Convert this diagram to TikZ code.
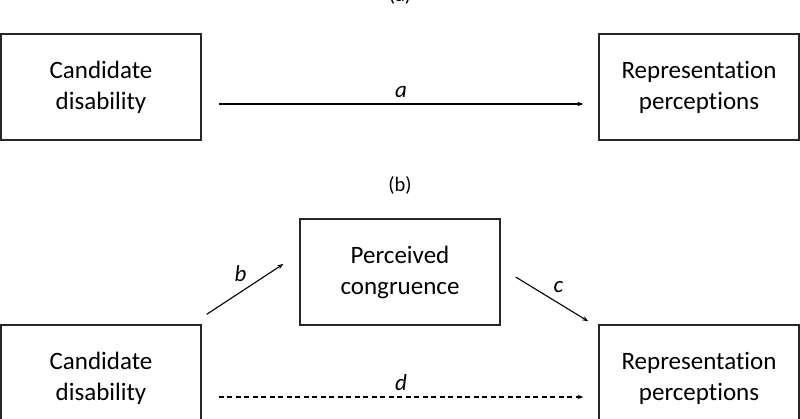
\documentclass[tikz,border=0pt]{standalone}
\usepackage{fontspec}
\setmainfont[RawFeature=-liga]{Carlito}
\usetikzlibrary{arrows.meta}
\begin{document}
\begin{tikzpicture}[x=1pt,y=-1pt,
  box/.style={draw=black!85,line width=1.3pt,minimum width=200pt,minimum height=106pt,inner sep=0pt,align=center,font=\fontsize{25}{31}\selectfont},
  conn/.style={line width=1.1pt,-{Stealth[length=6pt,width=4.5pt]}},
  lab/.style={font=\fontsize{23}{26}\selectfont\itshape,inner sep=2pt},
  panel/.style={font=\fontsize{20.5}{24}\selectfont}]
\useasboundingbox (0,0) rectangle (800,419);
% panel (a)
\node[panel] (pa) at (400,-5) {(a)};
\node[box] (a1) at (101,87) {Candidate\\disability};
\node[box] (a2) at (699,87) {Representation\\perceptions};
\draw[conn] ([shift={(17pt,-17pt)}]a1.east) -- node[lab,above,yshift=4pt] {a} ([shift={(-15pt,-17pt)}]a2.west);
% panel (b)
\node[panel] (pb) at (400,185) {(b)};
\node[box] (pc) at (400,272) {Perceived\\congruence};
\node[box] (b1) at (101,378) {Candidate\\disability};
\node[box] (b2) at (699,378) {Representation\\perceptions};
\draw[conn] ([shift={(5pt,10pt)}]b1.north east) -- node[lab,above left,xshift=4pt,yshift=5pt] {b} ([shift={(-16pt,8pt)}]pc.west);
\draw[conn] ([shift={(15pt,-5pt)}]pc.east) -- node[lab,above right,xshift=-1pt,yshift=4pt] {c} ([shift={(-10pt,3pt)}]b2.north west);
\draw[conn,dash pattern=on 5pt off 3.5pt] ([shift={(17pt,-19pt)}]b1.east) -- node[lab,above,yshift=4pt] {d} ([shift={(-15pt,-19pt)}]b2.west);
\end{tikzpicture}
\end{document}
